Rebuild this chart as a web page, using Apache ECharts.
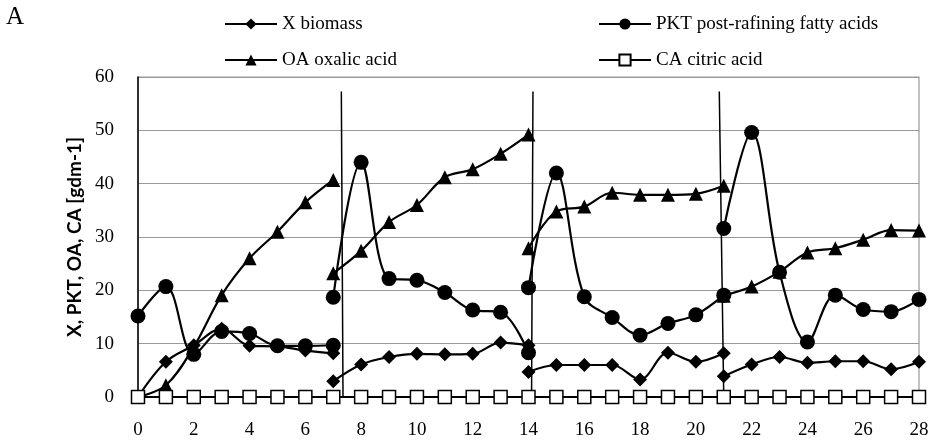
<!DOCTYPE html>
<html>
<head>
<meta charset="utf-8">
<script src="https://cdn.jsdelivr.net/npm/echarts@6/dist/echarts.min.js"></script>
<style>
  html, body { margin: 0; padding: 0; background: #fff; }
  #chart { width: 936px; height: 445px; }
</style>
</head>
<body>
<div id="chart"></div>
<script>
// Cultivation day at which each fed-batch run starts (each run spans 7 days)
const runStarts = [0, 7, 14, 21];

// X biomass [g/dm3], one array per run (days start..start+7)
const biomassRuns = [
  [0, 6.6, 9.7, 12.8, 9.6, 9.5, 8.7, 8.2],
  [2.95, 6.1, 7.5, 8.1, 8.0, 8.1, 10.2, 9.7],
  [4.7, 6.0, 6.0, 6.0, 3.3, 8.3, 6.6, 8.2],
  [3.9, 6.1, 7.5, 6.4, 6.7, 6.7, 5.2, 6.6]
];

// PKT post-refining fatty acids
const pktRuns = [
  [15.2, 20.7, 8.0, 12.3, 11.9, 9.6, 9.6, 9.7],
  [18.7, 44.0, 22.2, 21.9, 19.6, 16.3, 15.9, 8.3],
  [20.5, 42.0, 18.8, 14.9, 11.6, 13.8, 15.4, 19.1],
  [31.6, 49.6, 23.4, 10.3, 19.1, 16.4, 16.0, 18.3]
];

// OA oxalic acid
const oxalicRuns = [
  [0, 2.2, 9.4, 19.1, 26.0, 31.0, 36.5, 40.7],
  [23.2, 27.4, 32.8, 36.0, 41.2, 42.7, 45.6, 49.2],
  [27.9, 34.8, 35.7, 38.3, 37.9, 37.9, 38.1, 39.6],
  [19.0, 20.7, 23.5, 27.1, 27.9, 29.5, 31.3, 31.2]
];

// CA citric acid, days 0..28
const citricDays = [0,1,2,3,4,5,6,7,8,9,10,11,12,13,14,15,16,17,18,19,20,21,22,23,24,25,26,27,28];
const citric = [0,0,0,0,0,0,0,0,0,0,0,0,0,0,0,0,0,0,0,0,0,0,0,0,0,0,0,0,0];

// Medium exchange lines between runs: x at top and at bottom, top level
const exchangeTopX = [7.29, 14.16, 20.84];
const exchangeBottomX = [7.35, 14.11, 21.0];
const exchangeTop = 57.3;

const yTicks = { min: 0, max: 60, step: 10 };
const xTicks = { min: 0, max: 28, step: 2 };

// Join the runs into one data list, breaking the line between runs
function joinRuns(runs) {
  const out = [];
  runs.forEach((vals, r) => {
    vals.forEach((v, i) => out.push([runStarts[r] + i, v]));
    out.push([runStarts[r] + vals.length - 1, '-']);
  });
  return out;
}

const exchangeData = [];
exchangeTopX.forEach((x, i) => {
  exchangeData.push([x, exchangeTop], [exchangeBottomX[i], 0], [exchangeBottomX[i], '-']);
});

const serif = '"Liberation Serif", "Times New Roman", serif';
const ink = '#000';

function runSeries(name, runs, symbol, size) {
  return {
    name: name,
    type: 'line',
    data: joinRuns(runs),
    smooth: 0.35,
    connectNulls: false,
    symbol: symbol,
    symbolSize: size,
    showAllSymbol: true,
    lineStyle: { color: ink, width: 2.2 },
    itemStyle: { color: ink, borderColor: ink, borderWidth: 0 },
    emphasis: { disabled: true },
    animation: false
  };
}

const chart = echarts.init(document.getElementById('chart'), null, { renderer: 'canvas' });

const legendText = { fontFamily: serif, fontSize: 19, color: ink, lineHeight: 20 };

chart.setOption({
  backgroundColor: '#fff',
  animation: false,
  graphic: [{
    type: 'text', left: 6, top: 5,
    style: { text: 'A', font: '25px ' + serif, fill: ink }
  }],
  legend: [
    {
      data: ['X biomass', 'OA oxalic acid'],
      orient: 'vertical', left: 219, top: 9,
      itemWidth: 52, itemHeight: 14, itemGap: 16,
      textStyle: legendText
    },
    {
      data: ['PKT post-rafining fatty acids', 'CA citric acid'],
      orient: 'vertical', left: 593, top: 9,
      itemWidth: 52, itemHeight: 14, itemGap: 16,
      textStyle: legendText
    }
  ],
  grid: {
    left: 138, right: 17, top: 77, bottom: 48,
    show: true, borderColor: '#999', borderWidth: 1.2
  },
  xAxis: {
    type: 'value', min: xTicks.min, max: xTicks.max, interval: xTicks.step,
    axisLine: { show: true, onZero: false, lineStyle: { color: ink, width: 1.5 } },
    axisTick: { show: false },
    splitLine: { show: false },
    axisLabel: { fontFamily: serif, fontSize: 19, color: ink, margin: 24 }
  },
  yAxis: {
    type: 'value', min: yTicks.min, max: yTicks.max, interval: yTicks.step,
    name: 'X, PKT, OA, CA [gdm-1]',
    nameLocation: 'middle', nameRotate: 90, nameGap: 43,
    nameTextStyle: { fontFamily: 'Lato, "Open Sans", sans-serif', fontWeight: 'bold', fontSize: 19, color: ink },
    axisLine: { show: true, lineStyle: { color: ink, width: 1.5 } },
    axisTick: { show: false },
    splitLine: { show: true, lineStyle: { color: '#999', width: 1.2 } },
    axisLabel: { fontFamily: serif, fontSize: 19, color: ink, margin: 24 }
  },
  series: [
    runSeries('X biomass', biomassRuns, 'diamond', 14),
    runSeries('PKT post-rafining fatty acids', pktRuns, 'circle', 15),
    runSeries('OA oxalic acid', oxalicRuns, 'triangle', 14),
    {
      name: 'CA citric acid',
      type: 'line',
      data: citricDays.map((d, i) => [d, citric[i]]),
      symbol: 'rect', symbolSize: 13, showAllSymbol: true,
      lineStyle: { color: ink, width: 2.2 },
      itemStyle: { color: '#fff', borderColor: ink, borderWidth: 1.5 },
      emphasis: { disabled: true },
      z: 3
    },
    {
      name: 'exchange',
      type: 'line',
      data: exchangeData,
      symbol: 'none',
      connectNulls: false,
      lineStyle: { color: ink, width: 1.5 },
      emphasis: { disabled: true },
      z: 1
    }
  ]
});
</script>
</body>
</html>
